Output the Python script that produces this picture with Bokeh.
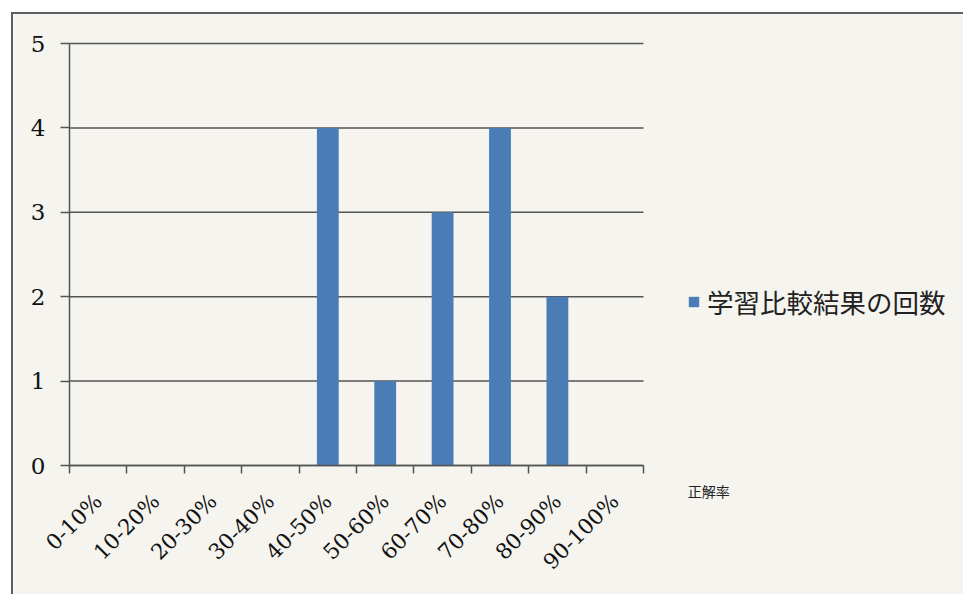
from bokeh.plotting import figure
from bokeh.models import Range1d, FixedTicker, Legend, LegendItem, Label, ColumnDataSource
from bokeh.embed import file_html
from bokeh.resources import INLINE

categories = ["0-10%", "10-20%", "20-30%", "30-40%", "40-50%",
              "50-60%", "60-70%", "70-80%", "80-90%", "90-100%"]
counts = [0, 0, 0, 0, 4, 1, 3, 4, 2, 0]
series_name = "学習比較結果の回数"
x_title = "正解率"
y_ticks = [0, 1, 2, 3, 4, 5]

PAPER = "#f5f4ef"
BAR = "#4a7db5"
LINE = "#545454"
TEXT = "#111111"

# layout constants (pixels inside the figure)
W, H = 952, 582
ORIGIN_X, ORIGIN_Y = 56, 451      # pixel position of data (0, 0), y from top
PX_PER_CAT, PX_PER_UNIT = 57.4, 84.4

n = len(categories)
x_range = Range1d(-ORIGIN_X / PX_PER_CAT, (W - ORIGIN_X) / PX_PER_CAT)
y_range = Range1d(-(H - ORIGIN_Y) / PX_PER_UNIT, ORIGIN_Y / PX_PER_UNIT)

centers = [i + 0.5 for i in range(n)]
src = ColumnDataSource(dict(x=centers, top=counts, cat=categories))
grid_src = ColumnDataSource(dict(y=y_ticks, x0=[0] * len(y_ticks), x1=[n] * len(y_ticks)))

p = figure(width=W, height=H, output_backend="svg", toolbar_location=None,
           x_range=x_range, y_range=y_range)
p.min_border = 0
p.min_border_left = 0
p.min_border_right = 0
p.min_border_top = 0
p.min_border_bottom = 0
p.styles = {"margin-left": "11px", "margin-top": "12px",
            "border-left": "2px solid #5e5e5e", "border-top": "2px solid #5e5e5e"}
p.background_fill_color = PAPER
p.border_fill_color = PAPER
p.outline_line_color = None
p.grid.visible = False

# horizontal gridlines limited to the category span
p.segment(x0="x0", x1="x1", y0="y", y1="y", source=grid_src,
          line_color=LINE, line_width=1.5)

r = p.vbar(x="x", top="top", width=0.38, source=src, fill_color=BAR, line_color=None)

# x axis: labels at centers, ticks at boundaries (minor ticks)
xa = p.xaxis[0]
xa.fixed_location = 0
xa.bounds = (0, n)
xa.ticker = FixedTicker(ticks=centers, minor_ticks=list(range(n + 1)))
xa.major_label_overrides = {c: lab for c, lab in zip(centers, categories)}
xa.major_label_orientation = 0.785398
xa.major_tick_line_color = None
xa.minor_tick_out = 8
xa.minor_tick_in = 0
xa.minor_tick_line_color = LINE
xa.minor_tick_line_width = 1.5
xa.axis_line_color = LINE
xa.axis_line_width = 1.5
xa.major_label_text_font = "DejaVu Serif"
xa.major_label_text_font_size = "21.5px"
xa.major_label_text_color = TEXT
xa.major_label_standoff = 24

ya = p.yaxis[0]
ya.fixed_location = 0
ya.bounds = (0, 5)
ya.ticker = FixedTicker(ticks=y_ticks, minor_ticks=[])
ya.major_tick_out = 9
ya.major_tick_in = 0
ya.major_tick_line_color = LINE
ya.major_tick_line_width = 1.5
ya.axis_line_color = LINE
ya.axis_line_width = 1.5
ya.major_label_text_font = "DejaVu Serif"
ya.major_label_text_font_size = "23px"
ya.major_label_text_color = TEXT
ya.major_label_standoff = 15

legend = Legend(items=[LegendItem(label=series_name, renderers=[r])],
                location=(674, 275), orientation="vertical",
                glyph_width=13, glyph_height=13, label_standoff=7,
                padding=0, margin=0, spacing=0,
                border_line_color=None, background_fill_alpha=0,
                label_text_font="Noto Sans CJK JP", label_text_font_size="26.5px",
                label_text_color="#222222")
p.add_layout(legend, "center")

p.add_layout(Label(x=10.77, y=-0.30, text=x_title, text_font="Noto Sans CJK JP",
                   text_font_size="14px", text_color="#222222",
                   text_align="left", text_baseline="middle"))

open("out.html", "w").write(file_html(p, INLINE))
